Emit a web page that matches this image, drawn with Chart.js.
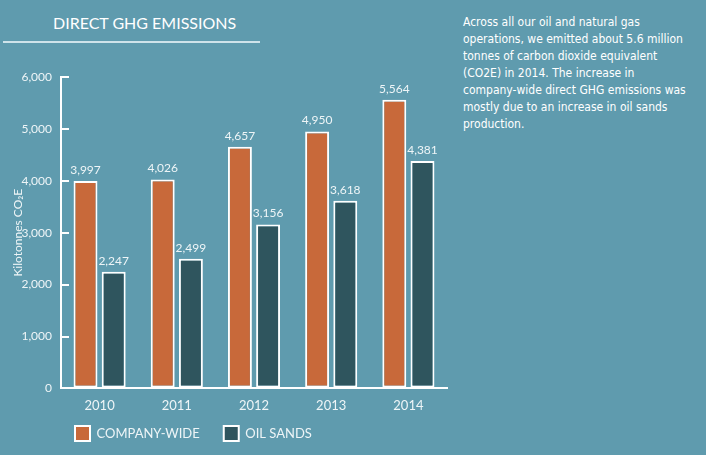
<!DOCTYPE html>
<html>
<head>
<meta charset="utf-8">
<script src="https://cdn.jsdelivr.net/npm/chart.js@4"></script>
<style>
  html, body { margin: 0; padding: 0; }
  body { width: 706px; height: 455px; background: #5f9bae; position: relative; overflow: hidden; }
  #title { position: absolute; left: 3px; top: 9px; width: 207px; height: 32px; padding-left: 50px; border-bottom: 2px solid #cfe3ea;
           font-family: Lato, sans-serif; font-size: 16px; color: #fff; line-height: 28px; }
  #note { position: absolute; left: 463px; top: 14px; font-family: "DejaVu Sans Condensed", "DejaVu Sans", sans-serif;
          font-size: 12px; line-height: 17px; color: #fff; white-space: nowrap; }
  #wrap { position: absolute; left: 0; top: 50px; width: 460px; height: 405px; }
</style>
</head>
<body>
<div id="title">DIRECT GHG EMISSIONS</div>
<div id="note">Across all our oil and natural gas<br>operations, we emitted about 5.6 million<br>tonnes of carbon dioxide equivalent<br>(CO2E) in 2014. The increase in<br>company-wide direct GHG emissions was<br>mostly due to an increase in oil sands<br>production.</div>
<div id="wrap"><canvas id="ghg-chart-canvas"></canvas></div>
<script>
// values
const years = ['2010', '2011', '2012', '2013', '2014'];
const companyWide = [3997, 4026, 4657, 4950, 5564];
const oilSands = [2247, 2499, 3156, 3618, 4381];
const yTicks = [0, 1000, 2000, 3000, 4000, 5000, 6000];

const textColor = '#eef5f7';

// numbers above each bar
const barValues = {
    id: 'barValues',
    afterDatasetsDraw(chart) {
        const ctx = chart.ctx;
        ctx.save();
        ctx.font = '12px Lato';
        ctx.fillStyle = textColor;
        ctx.textAlign = 'center';
        ctx.textBaseline = 'middle';
        chart.data.datasets.forEach((ds, i) => {
            chart.getDatasetMeta(i).data.forEach((bar, j) => {
                ctx.fillText(ds.data[j].toLocaleString('en-US'), bar.x, bar.y - 11);
            });
        });
        ctx.restore();
    }
};

// push the legend under the bars instead of the canvas edge
const legendShift = {
    id: 'legendShift',
    afterLayout(chart) {
        const lg = chart.legend;
        lg.left += 44; lg.right += 44;
        lg.top -= 22; lg.bottom -= 22;
    }
};

new Chart(document.getElementById('ghg-chart-canvas'), {
    type: 'bar',
    data: {
        labels: years,
        datasets: [
            {
                label: 'COMPANY-WIDE',
                data: companyWide,
                backgroundColor: '#c8693a',
                borderColor: '#ffffff',
                borderWidth: 2,
                borderSkipped: false
            },
            {
                label: 'OIL SANDS',
                data: oilSands,
                backgroundColor: '#2f555e',
                borderColor: '#ffffff',
                borderWidth: 2,
                borderSkipped: false
            }
        ]
    },
    options: {
        responsive: true,
        maintainAspectRatio: false,
        animation: false,
        categoryPercentage: 0.73,
        barPercentage: 0.85,
        layout: { padding: { top: 27, right: 13, left: 7, bottom: -18 } },
        plugins: {
            tooltip: { enabled: false },
            legend: {
                position: 'bottom',
                align: 'start',
                labels: {
                    boxWidth: 15,
                    boxHeight: 15,
                    padding: 24,
                    color: textColor,
                    font: { family: 'Lato', size: 13 }
                }
            }
        },
        scales: {
            x: {
                grid: { display: false, drawTicks: false },
                border: { color: '#ffffff', width: 2 },
                ticks: { color: textColor, padding: 10, font: { family: 'Lato', size: 13 } }
            },
            y: {
                min: 0,
                max: 6000,
                afterFit: (scale) => { scale.width = 54; },
                afterBuildTicks: (scale) => { scale.ticks = yTicks.map(v => ({ value: v })); },
                grid: { drawOnChartArea: false, tickLength: -8, color: '#ffffff', lineWidth: 2 },
                border: { color: '#ffffff', width: 2 },
                ticks: {
                    color: textColor,
                    padding: 17,
                    font: { family: 'Lato', size: 12 },
                    callback: (v) => v.toLocaleString('en-US')
                },
                title: {
                    display: true,
                    text: 'Kilotonnes CO₂E',
                    color: textColor,
                    font: { family: 'Lato', size: 12 }
                }
            }
        }
    },
    plugins: [barValues, legendShift]
});
</script>
</body>
</html>
